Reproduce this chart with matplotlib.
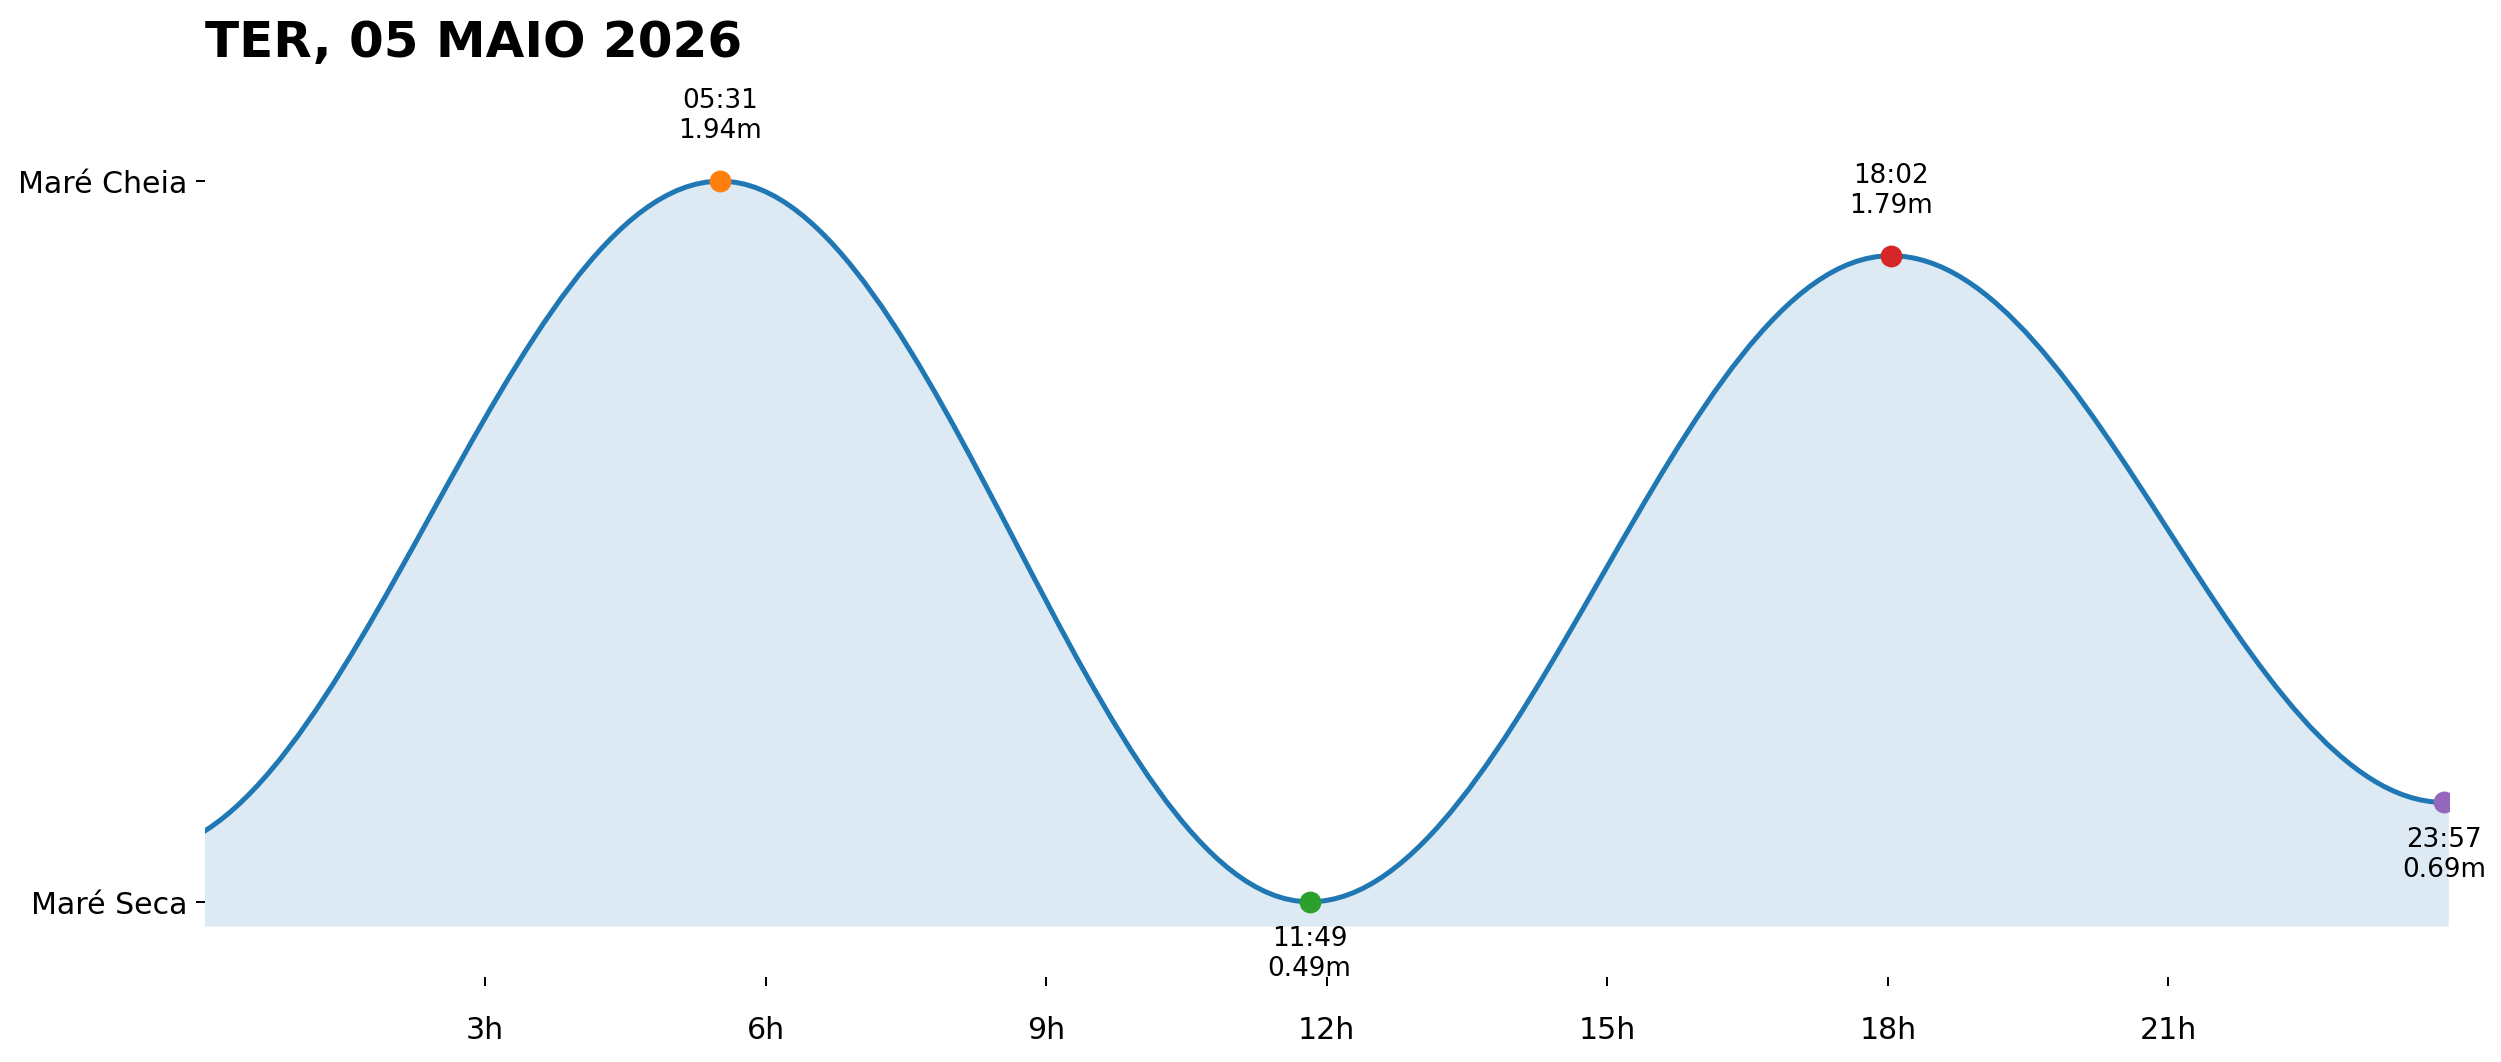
import matplotlib
matplotlib.use("Agg")
import matplotlib.pyplot as plt
from matplotlib.path import Path
from matplotlib.patches import PathPatch

# tide extremes of the day (hours since midnight, height in m)
extreme_labels = ["05:31", "11:49", "18:02", "23:57"]
extreme_hours = [5 + 31 / 60, 11 + 49 / 60, 18 + 2 / 60, 23 + 57 / 60]
extreme_heights = [1.94, 0.49, 1.79, 0.69]

# low tide of the evening before (estimated from the start of the curve)
prev_hour = -0.7
prev_height = 0.59

hour_ticks = [3, 6, 9, 12, 15, 18, 21]
title = "TER, 05 MAIO 2026"

x_max = 24
y_min = min(extreme_heights) - 0.05
y_max = max(extreme_heights) + 0.22

fig = plt.figure(figsize=(2501.4 / 180, 1062.4 / 180), dpi=180)
ax = fig.add_axes([0.0818, 0.1274, 0.8972, 0.8046])

# smooth tide curve: cubic bezier between extremes, flat at each extreme
hours = [prev_hour] + extreme_hours
heights = [prev_height] + extreme_heights
k = 0.363
verts = [(hours[0], heights[0])]
codes = [Path.MOVETO]
for i in range(len(hours) - 1):
    dt = hours[i + 1] - hours[i]
    verts += [(hours[i] + k * dt, heights[i]),
              (hours[i + 1] - k * dt, heights[i + 1]),
              (hours[i + 1], heights[i + 1])]
    codes += [Path.CURVE4] * 3

curve = Path(verts, codes)
fill_verts = verts + [(x_max, heights[-1]), (x_max, y_min), (hours[0], y_min), (hours[0], y_min)]
fill_codes = codes + [Path.LINETO, Path.LINETO, Path.LINETO, Path.CLOSEPOLY]

ax.add_patch(PathPatch(Path(fill_verts, fill_codes), facecolor="C0", alpha=0.15,
                       edgecolor="none", zorder=1))
ax.add_patch(PathPatch(curve, facecolor="none", edgecolor="C0", lw=2, zorder=2))

for i, (t, h, lab) in enumerate(zip(extreme_hours, extreme_heights, extreme_labels)):
    ax.scatter([t], [h], s=60, color=f"C{i + 1}", zorder=3)
    is_high = h > 1.2
    ax.annotate(f"{lab}\n{h:.2f}m", (t, h),
                xytext=(0, 15 if is_high else -9.5), textcoords="offset points",
                ha="center", va="bottom" if is_high else "top", fontsize=10.5)

ax.set_xlim(0, x_max)
ax.set_ylim(y_min, y_max)
ax.set_xticks(hour_ticks)
ax.set_xticklabels([f"{h}h" for h in hour_ticks])
ax.set_yticks([min(extreme_heights), max(extreme_heights)])
ax.set_yticklabels(["Maré Seca", "Maré Cheia"])
ax.tick_params(axis="x", labelsize=12, pad=12)
ax.tick_params(axis="y", labelsize=12)

for s in ax.spines.values():
    s.set_visible(False)
ax.spines["bottom"].set_position(("outward", 20))

ax.set_title(title, loc="left", fontsize=20, fontweight="bold")

fig.savefig("out.png", dpi=180)
